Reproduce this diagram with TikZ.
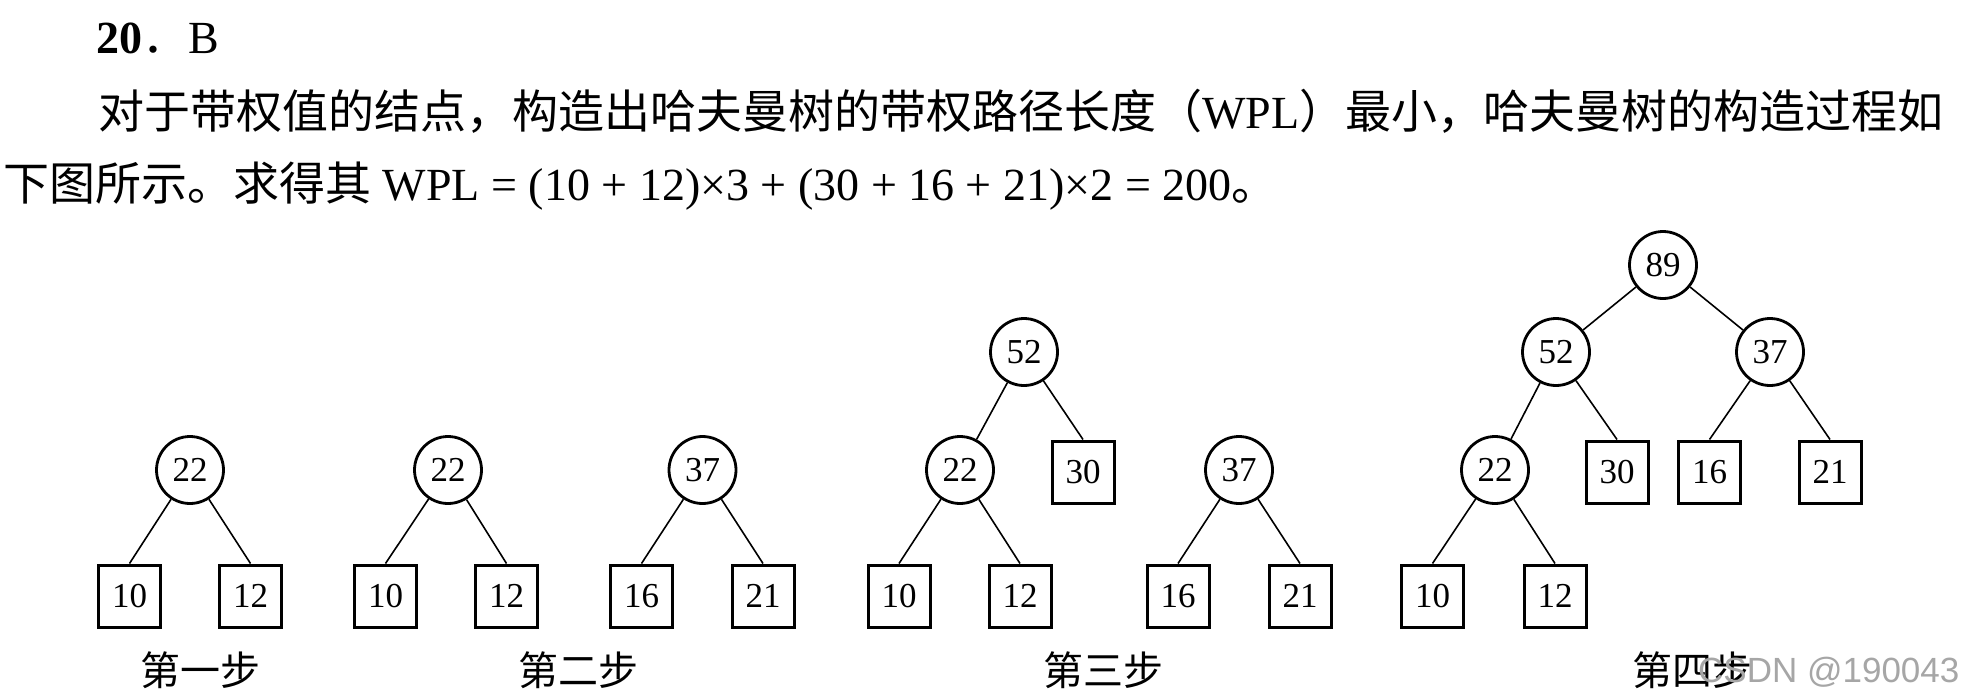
\documentclass[tikz,border=0pt]{standalone}
\usepackage{fontspec}
\setmainfont{Liberation Serif}
\newfontfamily\cjk{Noto Sans CJK SC}
\newfontfamily\wmfont{Liberation Sans}
\begin{document}
\begin{tikzpicture}[x=1pt,y=-1pt,
  inode/.style={circle, draw, line width=2.8pt, minimum size=67pt, inner sep=0pt, font=\fontsize{35}{37}\selectfont},
  leaf/.style={rectangle, draw, line width=3pt, minimum size=62pt, inner sep=0pt, font=\fontsize{35}{37}\selectfont},
  edge/.style={line width=1.6pt},
  steplabel/.style={anchor=base, inner sep=0pt, font=\cjk\fontsize{40}{44}\selectfont},
  textline/.style={anchor=base west, inner sep=0pt, font=\fontsize{46}{50}\selectfont}]
\useasboundingbox (0,0) rectangle (1978,699);
\fill[white] (0,0) rectangle (1978,699);

% header text
\node[textline, font=\fontsize{46}{50}\selectfont] (title) at (96,53) {{\bfseries 20}{\cjk ．}B};
\node[textline] (line2) at (98,128) {{\cjk 对于带权值的结点，构造出哈夫曼树的带权路径长度（}WPL{\cjk ）最小，哈夫曼树的构造过程如}};
\node[textline] (line3) at (3,200) {{\cjk 下图所示。求得其} WPL = (10 + 12)×3 + (30 + 16 + 21)×2 = 200{\cjk 。}};

% step 1
\node[inode] (s1c22) at (190,470) {22};
\node[leaf] (s1b10) at (129.5,596) {10};
\node[leaf] (s1b12) at (250.5,596) {12};
\draw[edge] (s1c22) -- (s1b10.north);
\draw[edge] (s1c22) -- (s1b12.north);
\node[steplabel] (lab1) at (200,685) {第一步};

% step 2
\node[inode] (s2c22) at (448,470) {22};
\node[leaf] (s2b10) at (385.5,596) {10};
\node[leaf] (s2b12) at (506.5,596) {12};
\node[inode] (s2c37) at (702.5,470) {37};
\node[leaf] (s2b16) at (641.5,596) {16};
\node[leaf] (s2b21) at (763,596) {21};
\draw[edge] (s2c22) -- (s2b10.north);
\draw[edge] (s2c22) -- (s2b12.north);
\draw[edge] (s2c37) -- (s2b16.north);
\draw[edge] (s2c37) -- (s2b21.north);
\node[steplabel] (lab2) at (578,685) {第二步};

% step 3
\node[inode] (s3c52) at (1024,352) {52};
\node[inode] (s3c22) at (960,470) {22};
\node[leaf] (s3b30) at (1083,472) {30};
\node[leaf] (s3b10) at (899,596) {10};
\node[leaf] (s3b12) at (1020,596) {12};
\node[inode] (s3c37) at (1239,470) {37};
\node[leaf] (s3b16) at (1178,596) {16};
\node[leaf] (s3b21) at (1300,596) {21};
\draw[edge] (s3c52) -- (s3c22);
\draw[edge] (s3c52) -- (s3b30.north);
\draw[edge] (s3c22) -- (s3b10.north);
\draw[edge] (s3c22) -- (s3b12.north);
\draw[edge] (s3c37) -- (s3b16.north);
\draw[edge] (s3c37) -- (s3b21.north);
\node[steplabel] (lab3) at (1103,685) {第三步};

% step 4
\node[inode] (s4c89) at (1663,265) {89};
\node[inode] (s4c52) at (1556,352) {52};
\node[inode] (s4c37) at (1770,352) {37};
\node[inode] (s4c22) at (1495,470) {22};
\node[leaf] (s4b30) at (1617,472) {30};
\node[leaf] (s4b16) at (1709.5,472) {16};
\node[leaf] (s4b21) at (1830,472) {21};
\node[leaf] (s4b10) at (1432.5,596) {10};
\node[leaf] (s4b12) at (1555,596) {12};
\draw[edge] (s4c89) -- (s4c52);
\draw[edge] (s4c89) -- (s4c37);
\draw[edge] (s4c52) -- (s4c22);
\draw[edge] (s4c52) -- (s4b30.north);
\draw[edge] (s4c37) -- (s4b16.north);
\draw[edge] (s4c37) -- (s4b21.north);
\draw[edge] (s4c22) -- (s4b10.north);
\draw[edge] (s4c22) -- (s4b12.north);
\node[steplabel] (lab4) at (1692,685) {第四步};

% watermark (overlaps the label, as in the reference)
\node[anchor=base west, inner sep=0pt, text=black!35, font=\wmfont\fontsize{35}{38}\selectfont] (wm) at (1698,682) {CSDN @190043};
\end{tikzpicture}
\end{document}
